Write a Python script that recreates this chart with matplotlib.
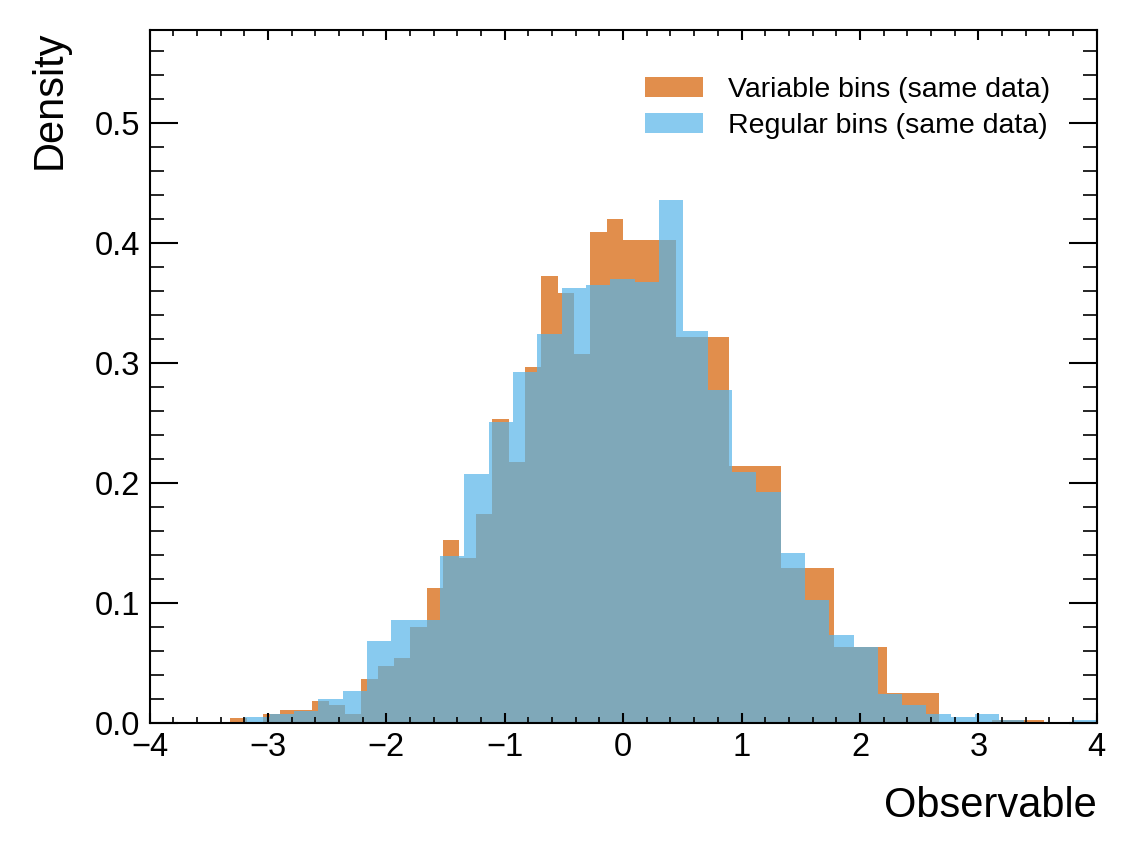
import matplotlib
matplotlib.use("Agg")
import matplotlib.pyplot as plt
import numpy as np
from matplotlib.ticker import AutoMinorLocator, MultipleLocator

plt.rcParams['font.family'] = ['Liberation Sans', 'DejaVu Sans']

# variable bins
var_edges = [-3.317, -3.179, -3.041, -2.902, -2.764, -2.626, -2.488, -2.350,
             -2.211, -2.073, -1.935, -1.797, -1.659, -1.520, -1.382, -1.244,
             -1.106, -0.968, -0.829, -0.691, -0.553, -0.415, -0.276, -0.138,
             0.0, 0.445, 0.890, 1.335, 1.780, 2.225, 2.670, 3.115, 3.556]
var_density = [0.0036, 0.0, 0.0072, 0.0109, 0.0109, 0.0181, 0.0145, 0.0072,
               0.0362, 0.0470, 0.0543, 0.0796, 0.1122, 0.1520, 0.1375, 0.1737,
               0.2533, 0.2171, 0.2967, 0.3727, 0.3582, 0.3076, 0.4089, 0.4197,
               0.4020, 0.3215, 0.2136, 0.1293, 0.0630, 0.0247, 0.0, 0.0022]

# regular bins
reg_lo, reg_hi, reg_nbins = -3.19, 4.0, 35
reg_density = [0.0049, 0.0073, 0.0097, 0.0195, 0.0268, 0.0682, 0.0852, 0.0852,
               0.1387, 0.2069, 0.2507, 0.2921, 0.3237, 0.3627, 0.3651, 0.3700,
               0.3675, 0.4357, 0.3262, 0.2775, 0.2093, 0.1923, 0.1412, 0.1022,
               0.0730, 0.0633, 0.0243, 0.0146, 0.0073, 0.0049, 0.0073, 0.0024,
               0.0, 0.0, 0.0024]
reg_edges = np.linspace(reg_lo, reg_hi, reg_nbins + 1)

fig = plt.figure(figsize=(11.37, 8.58), dpi=100)
ax = fig.add_axes([0.1315, 0.1577, 0.8331, 0.8073])

ax.stairs(var_density, var_edges, fill=True, color='#D55E00', alpha=0.7,
          label='Variable bins (same data)')
ax.stairs(reg_density, reg_edges, fill=True, color='#56B4E9', alpha=0.7,
          label='Regular bins (same data)')

ax.set_xlim(-4, 4)
ax.set_ylim(0, 0.5773)
ax.xaxis.set_major_locator(MultipleLocator(1))
ax.xaxis.set_minor_locator(AutoMinorLocator(5))
ax.yaxis.set_major_locator(MultipleLocator(0.1))
ax.yaxis.set_minor_locator(MultipleLocator(0.02))
ax.yaxis.set_major_formatter(plt.FormatStrFormatter('%.1f'))

ax.tick_params(axis='both', which='both', direction='in', top=True, right=True,
               labelsize=23.5, colors='black')
ax.tick_params(axis='x', which='major', length=7.5, width=1.5, pad=7)
ax.tick_params(axis='x', which='minor', length=4, width=1.2)
ax.tick_params(axis='y', which='major', length=20, width=1.5, pad=7)
ax.tick_params(axis='y', which='minor', length=10, width=1.2)
for s in ax.spines.values():
    s.set_linewidth(1.5)

ax.set_xlabel('Observable', fontsize=30, loc='right', labelpad=16)
ax.set_ylabel('Density', fontsize=30, loc='top', labelpad=18)

ax.legend(loc='upper right', frameon=False, fontsize=20.5, borderaxespad=1.25,
          handlelength=2.05, handletextpad=0.85, labelspacing=0.35)

fig.savefig('out.png', dpi=100)
